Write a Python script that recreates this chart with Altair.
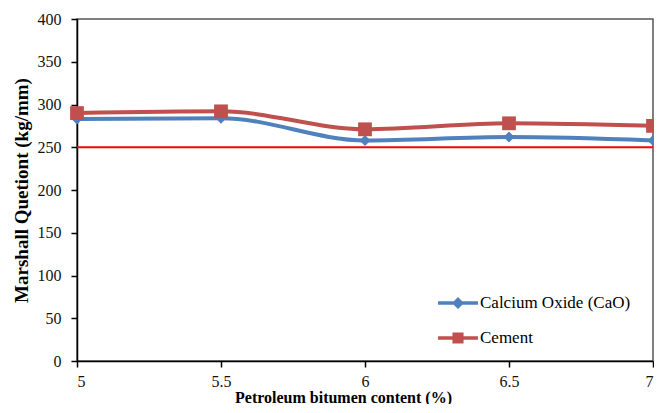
import altair as alt
import pandas as pd

bitumen = [5, 5.5, 6, 6.5, 7]
cao = [283, 284, 258, 262, 258]
cement = [290, 292, 271, 278, 275]
series_names = ["Calcium Oxide (CaO)", "Cement"]
limit_value = [250]

rows = []
for x, v in zip(bitumen, cao):
    rows.append({"x": x, "y": v, "s": series_names[0]})
for x, v in zip(bitumen, cement):
    rows.append({"x": x, "y": v, "s": series_names[1]})
df = pd.DataFrame(rows)
lim = pd.DataFrame({"y": limit_value})

colors = ["#4F81BD", "#C0504D"]
FONT = "Liberation Serif"

xenc = alt.X("x:Q", scale=alt.Scale(domain=[5, 7], nice=False),
             axis=alt.Axis(values=bitumen, title="Petroleum bitumen content (%)",
                           labelExpr="datum.value", titleFontSize=16, titleX=266))
yenc = alt.Y("y:Q", scale=alt.Scale(domain=[0, 400], nice=False),
             axis=alt.Axis(values=list(range(0, 401, 50)), title="Marshall Quetiont  (kg/mm)",
                           titleFontSize=19))
cenc = alt.Color("s:N", scale=alt.Scale(domain=series_names, range=colors), legend=None)

base = alt.Chart(df)

lines = base.mark_line(strokeWidth=4, interpolate="monotone").encode(x=xenc, y=yenc, color=cenc)

pts = base.mark_point(filled=True, opacity=1).encode(
    x="x:Q", y="y:Q", color=cenc,
    shape=alt.Shape("s:N", scale=alt.Scale(domain=series_names, range=["diamond", "square"]), legend=None),
    size=alt.Size("s:N", scale=alt.Scale(domain=series_names, range=[120, 190]), legend=None),
)

limit = alt.Chart(lim).mark_rule(color="#FF0000", strokeWidth=2).encode(y="y:Q")

diamond_path = "M-1.33,-0.12 L1.33,-0.12 L1.33,0.12 L-1.33,0.12 Z M0,-0.4 L0.4,0 L0,0.4 L-0.4,0 Z"
square_path = "M-1.33,-0.12 L1.33,-0.12 L1.33,0.12 L-1.33,0.12 Z M-0.37,-0.37 L0.37,-0.37 L0.37,0.37 L-0.37,0.37 Z"

leg = alt.Legend(title=None, orient="none", legendX=366, legendY=269,
                 labelFont=FONT, labelFontSize=17, labelColor="#000000",
                 symbolSize=900, labelOffset=7, rowPadding=12, padding=0,
                 symbolStrokeWidth=0)

legend_layer = base.transform_filter("datum.x > 100").mark_point(filled=True, size=900, opacity=1).encode(
    x="x:Q", y="y:Q",
    color=alt.Color("s:N", scale=alt.Scale(domain=series_names, range=colors), legend=leg),
    shape=alt.Shape("s:N", scale=alt.Scale(domain=series_names, range=[diamond_path, square_path]),
                    legend=leg),
)

chart = alt.layer(lines, limit, pts, legend_layer).resolve_scale(
    shape="independent", size="independent", color="independent"
).properties(
    width=576, height=342,
    autosize=alt.AutoSizeParams(type="none"),
    padding={"left": 69, "top": 11, "right": 1, "bottom": 43},
).configure_view(stroke="#555555", strokeWidth=1.5).configure_axis(
    domainColor="#000000", domainWidth=1.5, tickColor="#000000", tickWidth=1.5, tickSize=6,
    labelFont=FONT, labelFontSize=16, labelColor="#111111", grid=False,
    titleFont=FONT, titleFontWeight="bold", titleColor="#000000",
).configure_axisX(labelPadding=6, titlePadding=0).configure_axisY(labelPadding=10, titlePadding=6)

chart.save("out.html", embed_options={"renderer": "svg", "actions": False})
